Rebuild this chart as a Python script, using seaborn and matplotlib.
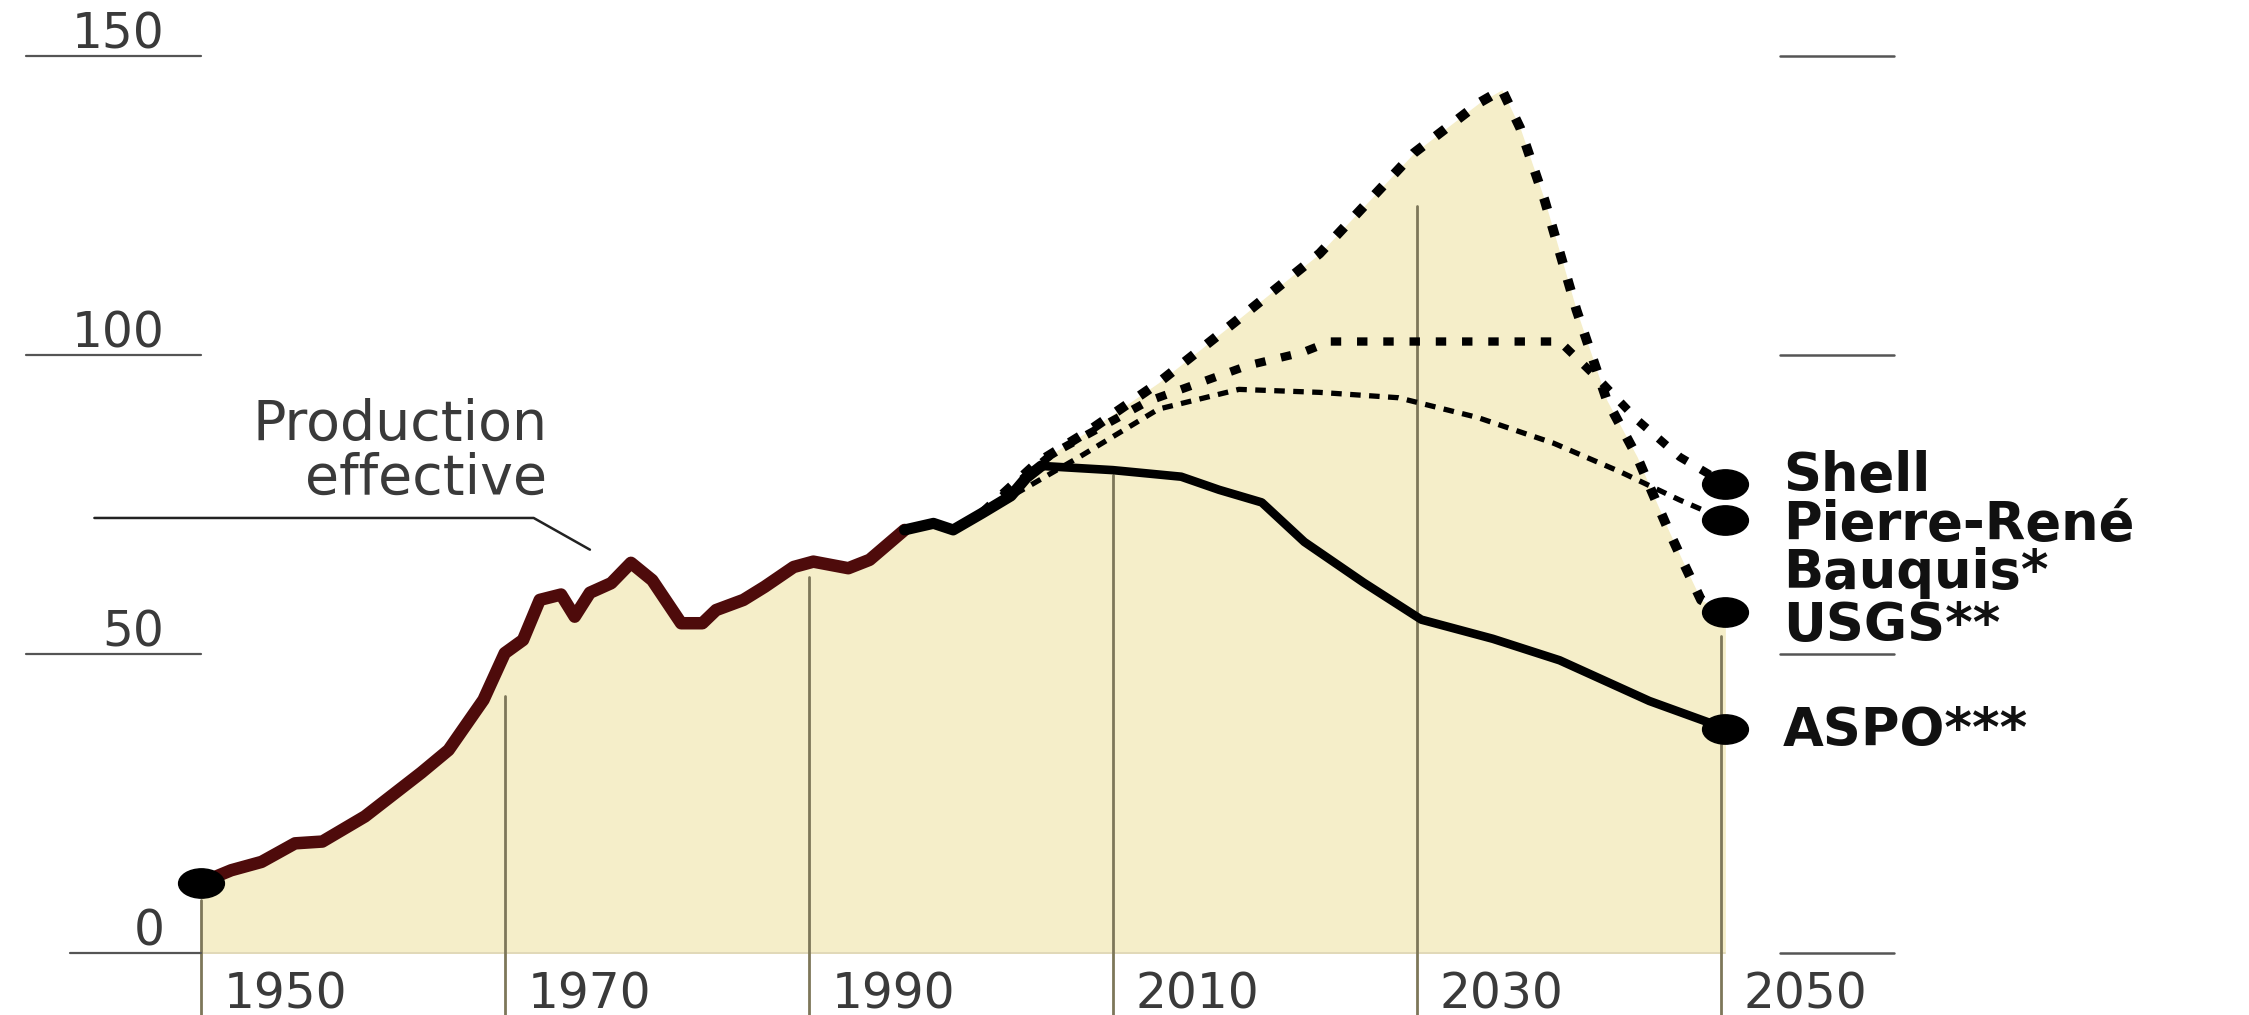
import numpy as np
import matplotlib
matplotlib.use('Agg')
import matplotlib.pyplot as plt
import seaborn as sns
from matplotlib.path import Path
from matplotlib.transforms import Affine2D

sns.set_theme(style="white")
plt.rcParams['font.family'] = ['DejaVu Sans']

# ── values (world oil production, Mb/d) ──
prod_years = [1950, 1952, 1954, 1956.2, 1958, 1960.8, 1964.5, 1966.3, 1968.6, 1970, 1971.2,
              1972.3, 1973.7, 1974.6, 1975.6, 1977, 1978.3, 1979.7, 1981.6, 1983, 1983.9,
              1985.7, 1987.1, 1989, 1990.3, 1992.6, 1994, 1996.3, 1998.2, 1999.5, 2001.4,
              2003.3, 2004.3, 2005.3]
prod = [11.8, 13.9, 15.3, 18.4, 18.7, 22.9, 30.2, 34, 42.4, 50.2, 52.4,
        59.1, 60, 56.3, 60.3, 61.9, 65.3, 62.4, 55.2, 55.2, 57.4,
        59.1, 61.3, 64.6, 65.5, 64.4, 65.8, 70.8, 71.9, 70.8, 73.6,
        76.5, 79.5, 81.5]

aspo_years = [2005.3, 2010, 2014.5, 2017, 2019.8, 2022.6, 2026.5, 2030.3, 2035, 2039.4, 2045.3, 2050.3]
aspo = [81.5, 80.8, 79.7, 77.5, 75.4, 68.8, 62, 55.8, 52.6, 49, 42.2, 37.6]

usgs_years = [2001.4, 2005, 2008.5, 2013, 2018, 2023.6, 2029.8, 2034.1, 2035.6, 2036.8, 2038.4,
              2040.5, 2042.5, 2044.5, 2045.5, 2046.5, 2047.6, 2048.7, 2050.3]
usgs = [73.6, 82, 87.5, 95.4, 105.5, 117, 133.8, 142.2, 144.4, 138, 126,
        107.6, 92.5, 83, 77, 71.1, 65, 59.1, 57]

shell_years = [2001.4, 2006, 2012.3, 2018.9, 2022.5, 2024.3, 2039.4, 2042, 2044.5, 2047.3, 2050.3]
shell = [73.6, 83.5, 92.3, 98.3, 100.5, 102.3, 102.3, 95.9, 89.2, 83, 78.5]

bauquis_years = [2001.4, 2007.8, 2013, 2018.3, 2023.6, 2028.8, 2034, 2039, 2043.4, 2047.3, 2050.3]
bauquis = [73.6, 83, 91, 94.3, 93.8, 92.9, 89.6, 85.3, 80.5, 75.8, 72.5]

decades = [1950, 1970, 1990, 2010, 2030, 2050]
decade_labels = ['1950', '1970', '1990', '2010', '2030', '2050']
grid_tops = [9, 43, 63, 80, 125, 53]
yticks = [0, 50, 100, 150]
ytick_labels = ['0', '50', '100', '150']
end_labels = ['Shell', 'Pierre-René\nBauquis*', 'USGS**', 'ASPO***']
end_label_y = [79.8, 67.6, 54.7, 37.2]

FILL = '#f5eec9'
GRID = '#7d7759'
MAROON = '#4e0b0b'
TXT = '#3a3a3a'

fig = plt.figure(figsize=(22.49, 10.15), dpi=100)
ax = fig.add_axes([0, 0, 1, 1])
ax.set_xlim(1936.79, 2084.75)
ax.set_ylim(-10.3, 159.4)
ax.axis('off')

# beige area under the envelope (history then USGS scenario)
env_x = [y for y in prod_years if y < usgs_years[0]] + usgs_years
env_y = [v for y, v in zip(prod_years, prod) if y < usgs_years[0]] + usgs
ax.fill_between(env_x, env_y, 0, color=FILL, lw=0, zorder=1)
ax.plot([1950, 2050.3], [0, 0], color='#ddd5b5', lw=1.2, zorder=1)

# decade rules
for yr, top, lab in zip(decades, grid_tops, decade_labels):
    ax.plot([yr, yr], [-10.3, top], color=GRID, lw=2.0, zorder=2)
    ax.text(yr + 1.5, -6.9, lab, ha='left', va='center', fontsize=35, color=TXT)

# y scale: labels with short rules at both sides
for v, lab in zip(yticks, ytick_labels):
    x0 = 1941.4 if v == 0 else 1938.5
    ax.plot([x0, 1950], [v, v], color='#555555', lw=1.6, zorder=2)
    ax.text(1947.6, v + 3.6, lab, ha='right', va='center', fontsize=35, color=TXT)
    ax.plot([2053.9, 2061.4], [v, v], color='#555555', lw=1.8, zorder=2)

# scenario lines
sns.lineplot(x=bauquis_years, y=bauquis, ax=ax, color='black', lw=3.8,
             linestyle=(0, (2.0, 1.6)), estimator=None, sort=False, zorder=3)
sns.lineplot(x=shell_years, y=shell, ax=ax, color='black', lw=6,
             linestyle=(0, (1.25, 1.9)), estimator=None, sort=False, zorder=3)
sns.lineplot(x=usgs_years, y=usgs, ax=ax, color='black', lw=7,
             linestyle=(0, (1.2, 1.7)), estimator=None, sort=False, zorder=3)
sns.lineplot(x=aspo_years, y=aspo, ax=ax, color='black', lw=6.2,
             estimator=None, sort=False, zorder=4)

# actual production: dark red, black over the last years
split = 27
sns.lineplot(x=prod_years[:split + 1], y=prod[:split + 1], ax=ax, color=MAROON, lw=9,
             estimator=None, sort=False, zorder=4, solid_joinstyle='round')
sns.lineplot(x=prod_years[split:], y=prod[split:], ax=ax, color='black', lw=8,
             estimator=None, sort=False, zorder=4, solid_joinstyle='round')

# dots (stretched like the printed chart)
ell = Path.unit_circle().transformed(Affine2D().scale(1.0, 0.64))
end_x = [prod_years[0], shell_years[-1], bauquis_years[-1], usgs_years[-1], aspo_years[-1]]
end_v = [prod[0], shell[-1], bauquis[-1], usgs[-1], aspo[-1]]
ax.plot(end_x, end_v, ls='none', marker=ell, ms=33, color='black', mec='black', zorder=5)

for lab, y in zip(end_labels, end_label_y):
    ax.text(2054.1, y, lab, ha='left', va='center', fontsize=38, fontweight='bold',
            color='#111111', linespacing=0.9)

# annotation
ax.text(1972.8, 83.8, 'Production\neffective', ha='right', va='center', fontsize=40,
        color=TXT, linespacing=1.0)
ax.plot([1943.0, 1971.9, 1975.6], [72.8, 72.8, 67.5], color='#222222', lw=1.8, zorder=3)

fig.savefig('out.png', dpi=100, facecolor='white')
